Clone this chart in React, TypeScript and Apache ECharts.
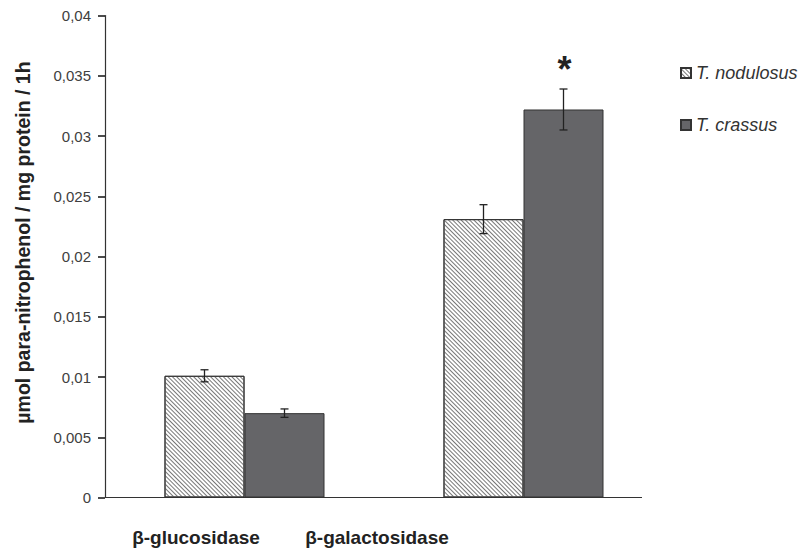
import React, { useEffect, useRef } from "react";
import * as echarts from "echarts";

const categories = ["β-glucosidase", "β-galactosidase"];
const seriesNames = ["T. nodulosus", "T. crassus"];
const nodulosusValues = [0.0101, 0.0231];
const nodulosusErrors = [0.0005, 0.0012];
const crassusValues = [0.007, 0.0322];
const crassusErrors = [0.00035, 0.0017];
const crassusSignificant = [false, true];
const yTicks = { min: 0, max: 0.04, interval: 0.005 };
const yAxisTitle = "µmol para-nitrophenol / mg protein / 1h";

const FONT = "'Liberation Sans', Arial, sans-serif";
const BAR_W = 80;

export default function App() {
  const ref = useRef<HTMLDivElement>(null);
  useEffect(() => {
    const chart = echarts.init(ref.current!, null, { renderer: "svg" });
    const errData: any[] = [];
    nodulosusValues.forEach((v, i) => errData.push([i, v, nodulosusErrors[i], 0, 0]));
    crassusValues.forEach((v, i) => errData.push([i, v, crassusErrors[i], 1, crassusSignificant[i] ? 1 : 0]));

    const catLabel = (i: number, x: number) => ({
      type: "text",
      x,
      y: 537,
      style: {
        text: categories[i],
        textAlign: "center",
        textVerticalAlign: "middle",
        fontSize: 19,
        fontWeight: "bold",
        fontFamily: FONT,
        fill: "#222",
      },
    });

    const option: any = {
      animation: false,
      backgroundColor: "#fff",
      textStyle: { fontFamily: FONT },
      grid: { left: 105, top: 15.5, width: 558, height: 482 },
      legend: {
        orient: "vertical",
        left: 675,
        top: 59,
        itemWidth: 10,
        itemHeight: 10,
        itemGap: 34,
        icon: "rect",
        textStyle: { fontStyle: "italic", fontSize: 18, color: "#333", fontFamily: FONT },
        data: seriesNames,
      },
      xAxis: {
        type: "category",
        data: categories,
        axisLine: { show: false },
        axisTick: { show: false },
        axisLabel: { show: false },
      },
      yAxis: {
        type: "value",
        min: yTicks.min,
        max: yTicks.max,
        interval: yTicks.interval,
        name: yAxisTitle,
        nameLocation: "middle",
        nameGap: 72,
        nameTextStyle: {
          fontSize: 19.5,
          fontWeight: "bold",
          color: "#222",
          fontFamily: FONT,
          padding: [0, 0, 0, 28],
        },
        axisLine: { show: true, lineStyle: { color: "#333", width: 1.2 } },
        axisTick: {
          show: true,
          inside: false,
          length: 7,
          lineStyle: { color: "#111", width: 1.5 },
        },
        splitLine: { show: false },
        axisLabel: {
          fontSize: 15,
          color: "#404040",
          margin: 14,
          formatter: (v: number) => String(+v.toFixed(3)).replace(".", ","),
        },
      },
      series: [
        {
          name: seriesNames[0],
          type: "bar",
          data: nodulosusValues,
          barWidth: BAR_W,
          barGap: "0%",
          itemStyle: {
            color: "#fff",
            borderColor: "#333",
            borderWidth: 1,
            decal: {
              symbol: "rect",
              symbolSize: 1,
              color: "#777",
              backgroundColor: "#fff",
              dashArrayX: [1, 0],
              dashArrayY: [1, 2],
              rotation: Math.PI / 4,
            },
          },
        },
        {
          name: seriesNames[1],
          type: "bar",
          data: crassusValues,
          barWidth: BAR_W,
          itemStyle: { color: "#656568", borderColor: "#333", borderWidth: 1 },
        },
        {
          type: "custom",
          data: errData,
          z: 10,
          renderItem: (params: any, api: any) => {
            const cat = api.value(0);
            const v = api.value(1);
            const e = api.value(2);
            const s = api.value(3);
            const sig = api.value(4);
            const off = s === 0 ? -BAR_W / 2 : BAR_W / 2;
            const top = api.coord([cat, v + e]);
            const bot = api.coord([cat, v - e]);
            const x = top[0] + off;
            const cw = 4;
            const st = { stroke: "#222", lineWidth: 1.3 };
            const children: any[] = [
              { type: "line", shape: { x1: x, y1: top[1], x2: x, y2: bot[1] }, style: st },
              { type: "line", shape: { x1: x - cw, y1: top[1], x2: x + cw, y2: top[1] }, style: st },
              { type: "line", shape: { x1: x - cw, y1: bot[1], x2: x + cw, y2: bot[1] }, style: st },
            ];
            if (sig) {
              children.push({
                type: "text",
                style: {
                  text: "*",
                  x: x + 1,
                  y: top[1] - 38,
                  textAlign: "center",
                  textVerticalAlign: "top",
                  fontSize: 36,
                  fontWeight: "bold",
                  fontFamily: FONT,
                  fill: "#222",
                },
              });
            }
            return { type: "group", children };
          },
        },
      ],
      graphic: [
        {
          type: "line",
          shape: { x1: 105, y1: 497.5, x2: 642, y2: 497.5 },
          style: { stroke: "#333", lineWidth: 1.2 },
        },
        catLabel(0, 196),
        catLabel(1, 377),
      ],
    };
    chart.setOption(option);
    return () => chart.dispose();
  }, []);
  return (
    <div
      ref={ref}
      style={{ position: "fixed", left: 0, top: 0, width: 802, height: 551, background: "#fff" }}
    />
  );
}
